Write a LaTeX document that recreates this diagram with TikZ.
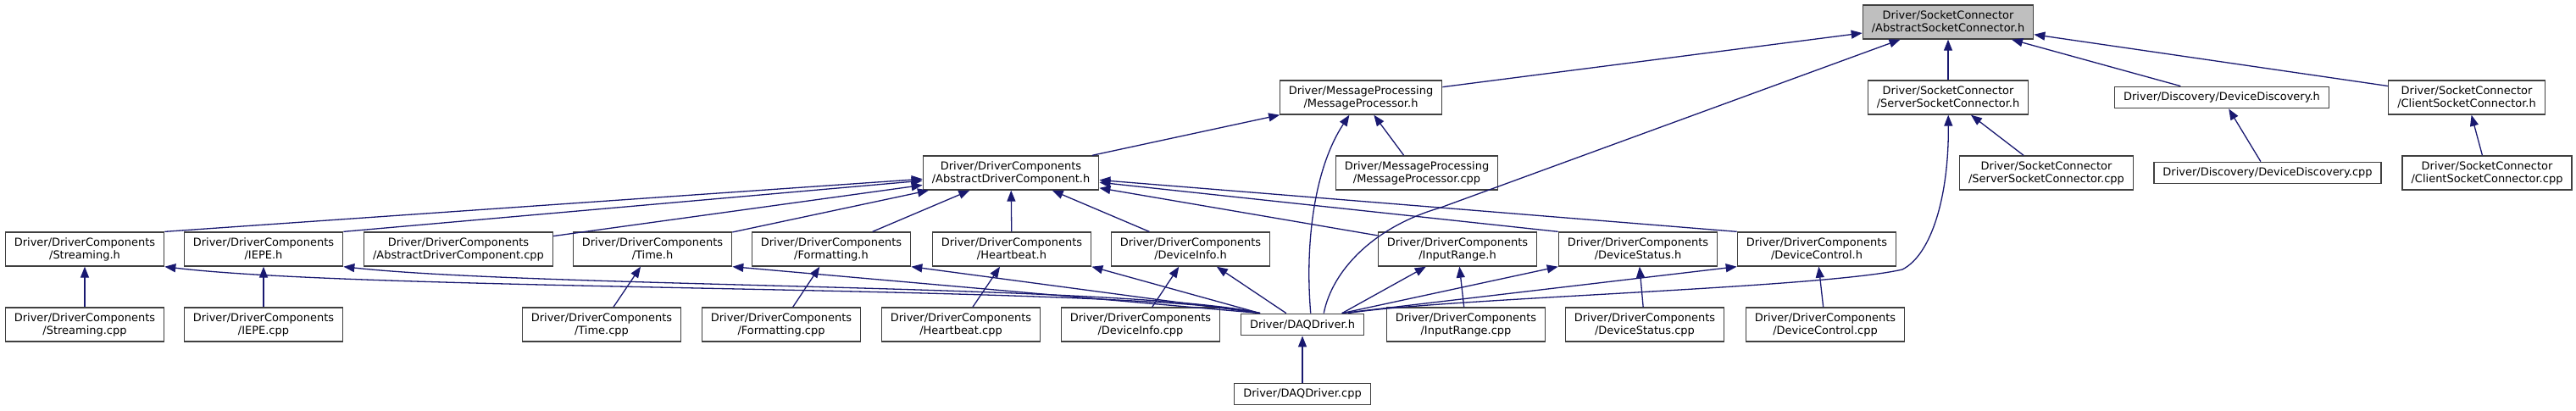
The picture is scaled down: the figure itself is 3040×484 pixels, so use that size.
\documentclass[tikz,border=0pt]{standalone}
\usepackage{fontspec}
\setmainfont{DejaVu Sans}
\usetikzlibrary{arrows.meta}
\definecolor{edgeblue}{RGB}{25,25,112}

\begin{document}
\begin{tikzpicture}[x=0.01cm, y=-0.01cm,
    box/.style={draw=black!75, line width=0.37pt, fill=white, align=center,
                inner xsep=0.105cm, inner ysep=0pt, minimum height=0.40cm,
                font=\fontsize{3.69pt}{4.27pt}\selectfont},
    box1/.style={box, minimum height=0.255cm},
    rootbox/.style={box, fill=black!25},
    dep/.style={-{Triangle[length=0.13cm, width=0.10cm]}, draw=edgeblue,
                line width=0.37pt},
  ]
    \useasboundingbox (0,0) rectangle (3040,484);

    % === Top: the included header ===
    \node[rootbox] (asc) at (2299,26)
      {Driver/SocketConnector\\/AbstractSocketConnector.h};

    % === Second row ===
    \node[box] (mph) at (1606,115)
      {Driver/MessageProcessing\\/MessageProcessor.h};
    \node[box] (ssch) at (2299,115)
      {Driver/SocketConnector\\/ServerSocketConnector.h};
    \node[box1] (ddh) at (2622,115)
      {Driver/Discovery/DeviceDiscovery.h};
    \node[box] (csch) at (2911,115)
      {Driver/SocketConnector\\/ClientSocketConnector.h};

    % === Third row ===
    \node[box] (adch) at (1193,204)
      {Driver/DriverComponents\\/AbstractDriverComponent.h};
    \node[box] (mpcpp) at (1672,204)
      {Driver/MessageProcessing\\/MessageProcessor.cpp};
    \node[box] (ssccpp) at (2415,204)
      {Driver/SocketConnector\\/ServerSocketConnector.cpp};
    \node[box1] (ddcpp) at (2676,204)
      {Driver/Discovery/DeviceDiscovery.cpp};
    \node[box] (csccpp) at (2935,204)
      {Driver/SocketConnector\\/ClientSocketConnector.cpp};

    % === Component headers ===
    \node[box] (streamh) at (100,294) {Driver/DriverComponents\\/Streaming.h};
    \node[box] (iepeh) at (311,294) {Driver/DriverComponents\\/IEPE.h};
    \node[box] (adccpp) at (541,294) {Driver/DriverComponents\\/AbstractDriverComponent.cpp};
    \node[box] (timeh) at (770,294) {Driver/DriverComponents\\/Time.h};
    \node[box] (formath) at (981,294) {Driver/DriverComponents\\/Formatting.h};
    \node[box] (heartbh) at (1194,294) {Driver/DriverComponents\\/Heartbeat.h};
    \node[box] (devinfoh) at (1405,294) {Driver/DriverComponents\\/DeviceInfo.h};
    \node[box] (inrangeh) at (1720,294) {Driver/DriverComponents\\/InputRange.h};
    \node[box] (devstath) at (1933,294) {Driver/DriverComponents\\/DeviceStatus.h};
    \node[box] (devctrlh) at (2144,294) {Driver/DriverComponents\\/DeviceControl.h};

    % === Component sources and the driver ===
    \node[box] (streamcpp) at (100,383) {Driver/DriverComponents\\/Streaming.cpp};
    \node[box] (iepecpp) at (311,383) {Driver/DriverComponents\\/IEPE.cpp};
    \node[box] (timecpp) at (710,383) {Driver/DriverComponents\\/Time.cpp};
    \node[box] (formatcpp) at (922,383) {Driver/DriverComponents\\/Formatting.cpp};
    \node[box] (heartbcpp) at (1134,383) {Driver/DriverComponents\\/Heartbeat.cpp};
    \node[box] (devinfocpp) at (1346,383) {Driver/DriverComponents\\/DeviceInfo.cpp};
    \node[box1] (daqh) at (1537,383) {Driver/DAQDriver.h};
    \node[box] (inrangecpp) at (1730,383) {Driver/DriverComponents\\/InputRange.cpp};
    \node[box] (devstatcpp) at (1941,383) {Driver/DriverComponents\\/DeviceStatus.cpp};
    \node[box] (devctrlcpp) at (2154,383) {Driver/DriverComponents\\/DeviceControl.cpp};

    \node[box1] (daqcpp) at (1537,465) {Driver/DAQDriver.cpp};

    % === Includes of AbstractSocketConnector.h ===
    \draw[dep] (mph) -- (asc);
    \draw[dep] (ssch) -- (asc);
    \draw[dep] (ddh) -- (asc);
    \draw[dep] (csch) -- (asc);
    \draw[dep] (daqh.28) .. controls (1572,320) and (1620,268) .. (1700,245) -- (asc);

    % === Second level ===
    \draw[dep] (adch) -- (mph);
    \draw[dep] (mpcpp) -- (mph);
    \draw[dep] (daqh.54) .. controls (1540,290) and (1550,200) .. (mph);
    \draw[dep] (ssccpp) -- (ssch);
    \draw[dep] (daqh.14) .. controls (1700,352) and (2150,340) .. (2245,318)
                         .. controls (2280,300) and (2300,230) .. (ssch);
    \draw[dep] (ddcpp) -- (ddh);
    \draw[dep] (csccpp) -- (csch);

    % === Components on AbstractDriverComponent.h ===
    \draw[dep] (streamh.north east) -- (adch);
    \draw[dep] (iepeh.north east) -- (adch);
    \draw[dep] (adccpp) -- (adch);
    \draw[dep] (timeh) -- (adch);
    \draw[dep] (formath) -- (adch);
    \draw[dep] (heartbh) -- (adch);
    \draw[dep] (devinfoh) -- (adch);
    \draw[dep] (inrangeh) -- (adch);
    \draw[dep] (devstath.north west) -- (adch);
    \draw[dep] (devctrlh.north west) -- (adch);

    % === Sources on their headers ===
    \draw[dep] (streamcpp) -- (streamh);
    \draw[dep] (iepecpp) -- (iepeh);
    \draw[dep] (timecpp) -- (timeh);
    \draw[dep] (formatcpp) -- (formath);
    \draw[dep] (heartbcpp) -- (heartbh);
    \draw[dep] (devinfocpp) -- (devinfoh);
    \draw[dep] (inrangecpp) -- (inrangeh);
    \draw[dep] (devstatcpp) -- (devstath);
    \draw[dep] (devctrlcpp) -- (devctrlh);
    \draw[dep] (daqcpp) -- (daqh);

    % === DAQDriver.h on the components ===
    \draw[dep] (daqh.165) .. controls +(-146,-33) and +(250,30) .. (streamh.south east);
    \draw[dep] (daqh.165) .. controls +(-146,-34) and +(230,25) .. (iepeh.south east);
    \draw[dep] (daqh.165) -- (timeh.south east);
    \draw[dep] (daqh.165) -- (formath.south east);
    \draw[dep] (daqh.165) -- (heartbh.south east);
    \draw[dep] (daqh.145) -- (devinfoh);
    \draw[dep] (daqh.16) -- (inrangeh);
    \draw[dep] (daqh.16) -- (devstath.south west);
    \draw[dep] (daqh.16) -- (devctrlh.south west);
  \end{tikzpicture}
\end{document}
